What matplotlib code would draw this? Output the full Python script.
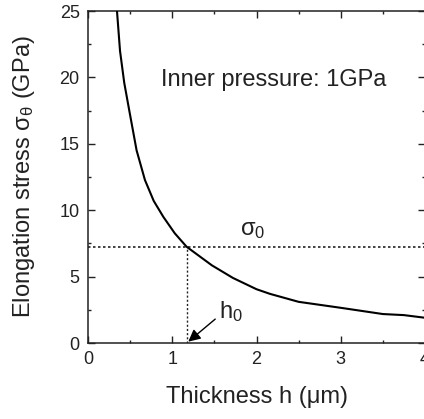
import matplotlib
matplotlib.use("Agg")
import matplotlib.pyplot as plt
from matplotlib.ticker import MultipleLocator

plt.rcParams['font.family'] = ['Liberation Sans', 'DejaVu Sans']
plt.rcParams['mathtext.default'] = 'regular'

# values
thickness = [0.344, 0.38, 0.43, 0.49, 0.577, 0.676, 0.78, 0.894, 1.03, 1.17,
             1.47, 1.72, 2.0, 2.16, 2.5, 3.0, 3.5, 3.75, 4.0]
stress = [25, 22, 19.6, 17.5, 14.5, 12.27, 10.7, 9.5, 8.26, 7.25,
          5.85, 4.9, 4.05, 3.7, 3.1, 2.65, 2.18, 2.1, 1.9]
sigma0 = 7.25
h0 = 1.17

fig = plt.figure(figsize=(4.24, 4.19), dpi=100)
ax = fig.add_axes([88 / 424, 1 - 343 / 419, 337 / 424, 332 / 419])

ax.plot(thickness, stress, color='black', lw=1.5, zorder=3)
ax.plot([0, 4], [sigma0, sigma0], color='#222222', lw=1.2, ls=(0, (1.5, 1.5)))
ax.plot([h0, h0], [0, sigma0], color='#222222', lw=1.0, ls=(0, (1.5, 1.5)))

ax.annotate('', xy=(h0 + 0.02, 0.1), xytext=(1.51, 1.8),
            arrowprops=dict(arrowstyle='-|>', color='black', lw=1.0,
                            mutation_scale=18, shrinkA=0, shrinkB=0))
ax.text(1.55, 2.35, 'h$_0$', fontsize=17, va='center', ha='left', color='#222222')
ax.text(1.95, 8.5, 'σ$_0$', fontsize=17, va='center', ha='center', color='#222222')
ax.text(0.87, 19.8, 'Inner pressure: 1GPa', fontsize=17, va='center', ha='left',
        color='#222222')

ax.set_xlim(0, 4)
ax.set_ylim(0, 25)
ax.xaxis.set_major_locator(MultipleLocator(1))
ax.xaxis.set_minor_locator(MultipleLocator(0.5))
ax.yaxis.set_major_locator(MultipleLocator(5))
ax.yaxis.set_minor_locator(MultipleLocator(2.5))
ax.tick_params(which='both', direction='in', top=True, right=True,
               width=1.0, colors='#222222', labelsize=13, pad=6)
ax.tick_params(which='major', length=5)
ax.tick_params(which='minor', length=2.5)
for s in ax.spines.values():
    s.set_linewidth(1.1)
    s.set_color('#222222')

ax.set_xlabel('Thickness h (μm)', fontsize=17, labelpad=13, color='#222222')
ax.set_ylabel('Elongation stress σ$_θ$ (GPa)', fontsize=17, labelpad=16,
              color='#222222')

fig.savefig('out.png', dpi=100)
